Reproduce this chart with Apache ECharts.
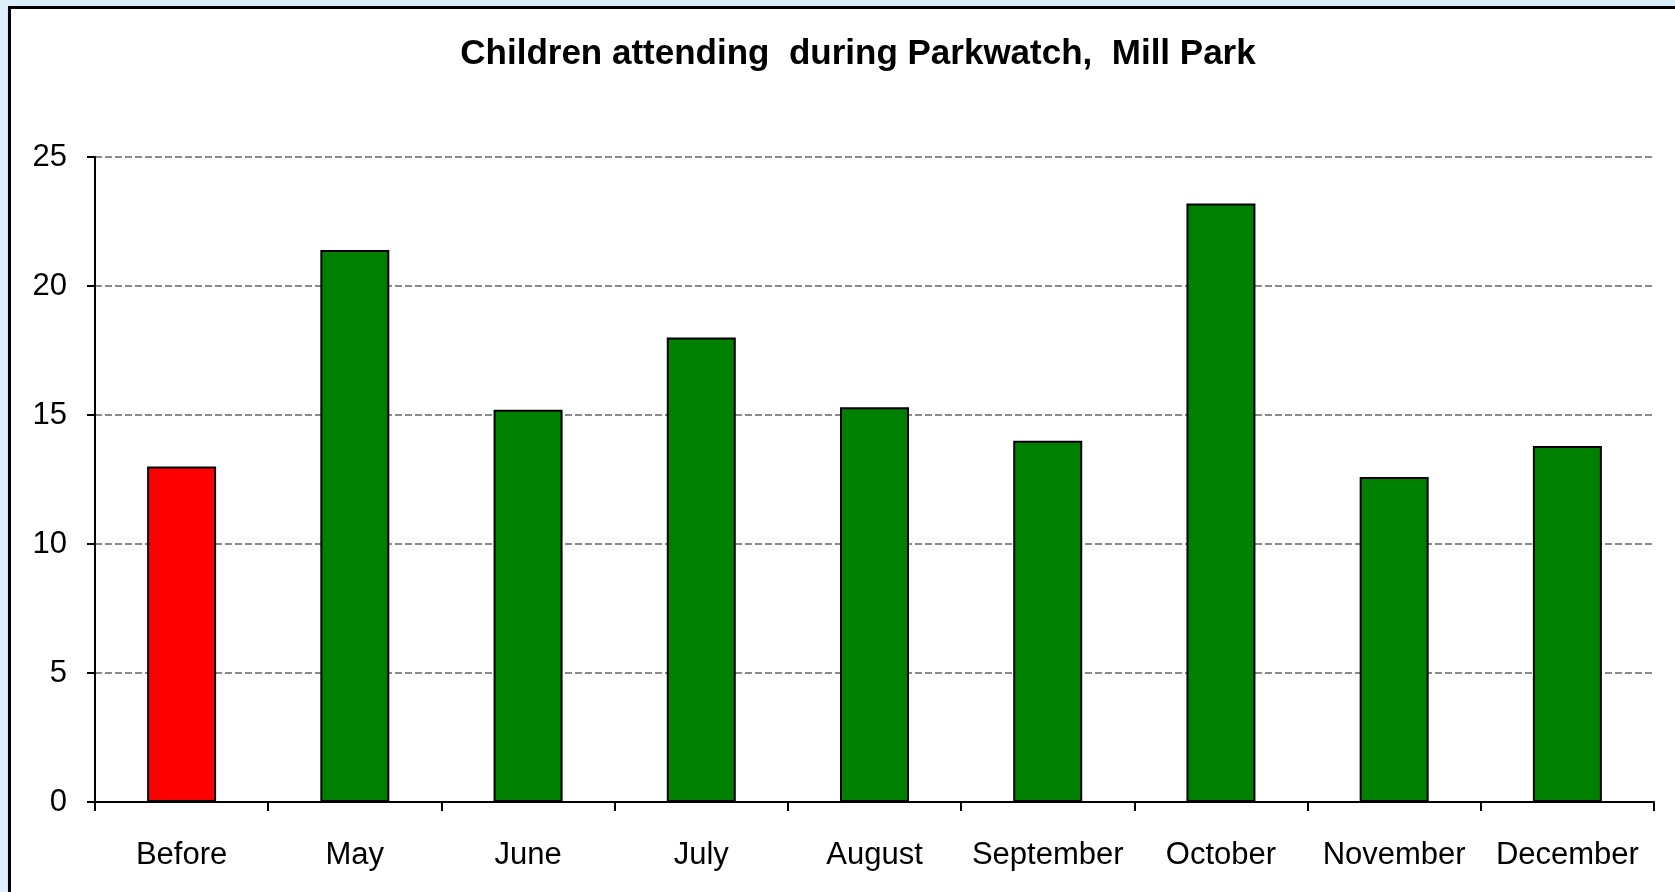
<!DOCTYPE html>
<html>
<head>
<meta charset="utf-8">
<script src="https://cdn.jsdelivr.net/npm/echarts@6/dist/echarts.min.js"></script>
<style>
  html, body { margin: 0; padding: 0; width: 1675px; height: 892px; overflow: hidden; background: #ddeefc; }
  #frame { position: absolute; left: 8px; top: 6px; width: 1700px; height: 920px; background: #ffffff; border: 3px solid #000; box-shadow: 1px 1px 2px #999; }
  #chart { position: absolute; left: 0; top: 0; width: 1675px; height: 892px; }
</style>
</head>
<body>
<div id="frame"></div>
<div id="chart"></div>
<script>
const titleText = 'Children attending  during Parkwatch,  Mill Park';
const categories = ['Before', 'May', 'June', 'July', 'August', 'September', 'October', 'November', 'December'];
const values = [13.0, 21.4, 15.2, 18.0, 15.3, 14.0, 23.2, 12.6, 13.8];
const barColors = ['#ff0000', '#008000', '#008000', '#008000', '#008000', '#008000', '#008000', '#008000', '#008000'];
const yTicks = [0, 5, 10, 15, 20, 25];

const chart = echarts.init(document.getElementById('chart'), null, { renderer: 'canvas' });
const font = '"Liberation Sans", Arial, sans-serif';
chart.setOption({
  animation: false,
  backgroundColor: 'transparent',
  title: {
    text: titleText,
    left: 858,
    top: 37,
    textAlign: 'center',
    padding: 0,
    textStyle: { fontFamily: font, fontSize: 35, fontWeight: 'bold', color: '#000' }
  },
  grid: { left: 95, right: 21, top: 157, bottom: 90, containLabel: false },
  xAxis: {
    type: 'category',
    data: categories,
    boundaryGap: true,
    axisLine: { show: true, lineStyle: { color: '#000', width: 2 } },
    axisTick: { show: true, alignWithLabel: false, length: 9, lineStyle: { color: '#000', width: 2 } },
    axisLabel: { interval: 0, margin: 38, fontFamily: font, fontSize: 31, color: '#000' },
    splitLine: { show: false }
  },
  yAxis: {
    type: 'value',
    min: yTicks[0],
    max: yTicks[yTicks.length - 1],
    interval: 5,
    axisLine: { show: true, lineStyle: { color: '#000', width: 2 } },
    axisTick: { show: true, length: 8, lineStyle: { color: '#000', width: 2 } },
    axisLabel: { margin: 28, fontFamily: font, fontSize: 31, color: '#000' },
    splitLine: { show: true, lineStyle: { color: '#8a8a8a', width: 2, type: [7, 3] } }
  },
  series: [{
    type: 'bar',
    data: values.map((v, i) => ({ value: v, itemStyle: { color: barColors[i] } })),
    barWidth: 69,
    itemStyle: { borderColor: '#000', borderWidth: 2 }
  }]
});
</script>
</body>
</html>
